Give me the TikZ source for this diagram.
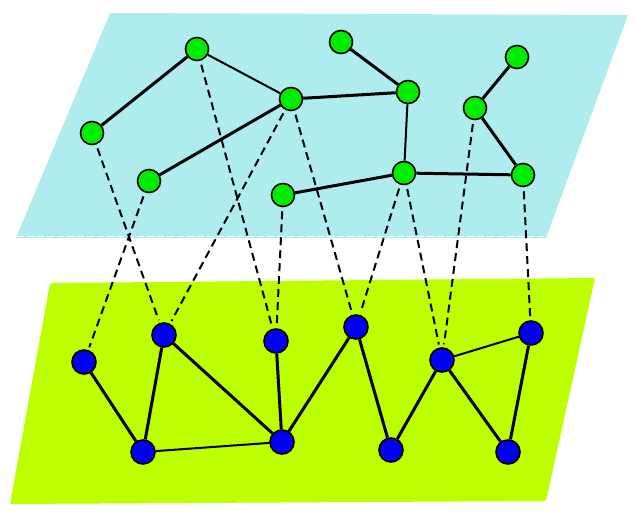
\documentclass[tikz,border=0pt]{standalone}
\usepackage{tikz}
\definecolor{planecyan}{RGB}{175,236,237}
\definecolor{planelime}{RGB}{187,255,0}
\definecolor{nodegreen}{RGB}{0,236,0}
\definecolor{nodeblue}{RGB}{0,0,242}

\begin{document}
\begin{tikzpicture}[x=1pt, y=-1pt,
    upper/.style={circle, draw=black, line width=1.6pt, fill=nodegreen, minimum size=23pt, inner sep=0pt},
    lower/.style={circle, draw=black, line width=1.6pt, fill=nodeblue, minimum size=24pt, inner sep=0pt},
    link/.style={line width=3pt},
    weak/.style={line width=2pt},
    map/.style={line width=2pt, dash pattern=on 8pt off 5pt, shorten <=4pt, shorten >=3pt}]
    \useasboundingbox (0,0) rectangle (638,517);
    % the two planes
    \fill[planecyan] (110,13) -- (628,15) -- (546,238) -- (16,238) -- cycle;
    \draw[white, line width=1pt, dash pattern=on 7pt off 3pt] (17,236.5) -- (545,236.5);
    \fill[planelime, rounded corners=2pt] (50,283) -- (595,278) -- (546,501) -- (10,504) -- cycle;
    % upper graph
    \node[upper] (ua) at (197,49) {};
    \node[upper] (ub) at (92,133) {};
    \node[upper] (uc) at (149,181) {};
    \node[upper] (ud) at (291,99) {};
    \node[upper] (ue) at (341,42) {};
    \node[upper] (uf) at (408,92) {};
    \node[upper] (ug) at (283,195) {};
    \node[upper] (uh) at (404,173) {};
    \node[upper] (ui) at (475,108) {};
    \node[upper] (uj) at (517,57) {};
    \node[upper] (uk) at (523,175) {};
    % lower graph
    \node[lower] (la) at (84,362) {};
    \node[lower] (lb) at (164,335) {};
    \node[lower] (lc) at (276,341) {};
    \node[lower] (ld) at (356,327) {};
    \node[lower] (le) at (442,360) {};
    \node[lower] (lf) at (531,333) {};
    \node[lower] (lg) at (143,452) {};
    \node[lower] (lh) at (282,442) {};
    \node[lower] (li) at (391,450) {};
    \node[lower] (lj) at (508,452) {};
    % edges in the upper plane
    \draw[link] (ua) -- (ub);
    \draw[weak] (ua) -- (ud);
    \draw[link] (ud) -- (uc);
    \draw[link] (ud) -- (uf);
    \draw[link] (ue) -- (uf);
    \draw[weak] (uf) -- (uh);
    \draw[link] (ug) -- (uh);
    \draw[link] (uh) -- (uk);
    \draw[link] (uk) -- (ui);
    \draw[link] (ui) -- (uj);
    % edges in the lower plane
    \draw[link] (la) -- (lg);
    \draw[link] (lb) -- (lg);
    \draw[link] (lb) -- (lh);
    \draw[weak] (lg) -- (lh);
    \draw[link] (lc) -- (lh);
    \draw[link] (lh) -- (ld);
    \draw[link] (ld) -- (li);
    \draw[link] (li) -- (le);
    \draw[weak] (le) -- (lf);
    \draw[link] (le) -- (lj);
    \draw[link] (lf) -- (lj);
    % mapping between the planes
    \draw[map] (ub) -- (lb);
    \draw[map] (uc) -- (la);
    \draw[map] (ua) -- (lc);
    \draw[map] (ud) -- (lb);
    \draw[map] (ud) -- (ld);
    \draw[map] (ug) -- (lc);
    \draw[map] (uh) -- (ld);
    \draw[map] (uh) -- (le);
    \draw[map] (ui) -- (le);
    \draw[map] (uk) -- (lf);
\end{tikzpicture}
\end{document}
